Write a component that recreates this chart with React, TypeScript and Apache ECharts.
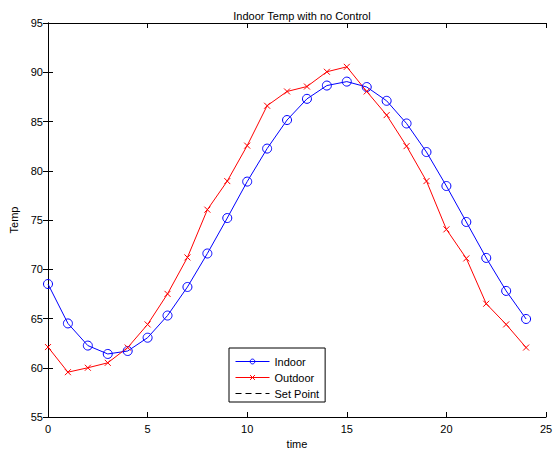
import React, { useEffect, useRef } from "react";
import * as echarts from "echarts";

const hours = [0,1,2,3,4,5,6,7,8,9,10,11,12,13,14,15,16,17,18,19,20,21,22,23,24];
const indoor = [68.5,64.5,62.25,61.4,61.7,63.05,65.3,68.2,71.6,75.2,78.9,82.25,85.15,87.3,88.65,89.05,88.5,87.1,84.8,81.9,78.45,74.8,71.15,67.8,64.95];
const outdoor = [62.1,59.55,60.0,60.5,62.05,64.4,67.5,71.2,76.05,78.95,82.55,86.6,88.05,88.55,90.05,90.55,88.05,85.65,82.5,78.95,74.05,71.1,66.5,64.4,62.05];
const setPoint: number[] = [];

const FONT = "Liberation Sans";
const BLUE = "#0000ff";
const RED = "#ff0000";

export default function App() {
  const ref = useRef<HTMLDivElement>(null);
  useEffect(() => {
    const chart = echarts.init(ref.current!, null, { renderer: "svg" });
    const xCommon = {
      type: "value" as const,
      min: 0,
      max: 25,
      interval: 5,
      splitLine: { show: false },
      axisLine: { show: true, lineStyle: { color: "#000", width: 1 } },
      axisTick: { show: true, inside: true, length: 5, lineStyle: { color: "#000" } },
    };
    const yCommon = {
      type: "value" as const,
      min: 55,
      max: 95,
      interval: 5,
      splitLine: { show: false },
      axisLine: { show: true, lineStyle: { color: "#000", width: 1 } },
      axisTick: { show: true, inside: true, length: 5, lineStyle: { color: "#000" } },
    };
    chart.setOption({
      animation: false,
      backgroundColor: "#fff",
      title: {
        text: "Indoor Temp with no Control",
        left: 297,
        textAlign: "center",
        top: 5,
        textStyle: { fontFamily: FONT, fontSize: 11, fontWeight: "normal", color: "#000" },
      },
      grid: { left: 48, right: 12, top: 23, bottom: 32, outerBoundsMode: "none", containLabel: false },
      xAxis: [
        {
          ...xCommon,
          position: "bottom",
          name: "time",
          nameLocation: "middle",
          nameGap: 21,
          nameTextStyle: { fontFamily: FONT, fontSize: 11, color: "#000" },
          axisLabel: { fontFamily: FONT, fontSize: 11, color: "#000", margin: 6 },
        },
        { ...xCommon, position: "top", axisLabel: { show: false } },
      ],
      yAxis: [
        {
          ...yCommon,
          position: "left",
          name: "Temp",
          nameLocation: "middle",
          nameGap: 27,
          nameRotate: 90,
          nameTextStyle: { fontFamily: FONT, fontSize: 11, color: "#000" },
          axisLabel: { fontFamily: FONT, fontSize: 11, color: "#000", margin: 5 },
        },
        { ...yCommon, position: "right", axisLabel: { show: false } },
      ],
      legend: {
        orient: "vertical",
        left: 229,
        top: 348,
        padding: [8, 6, 3, 6],
        itemGap: 5,
        itemWidth: 34,
        itemHeight: 6,
        borderColor: "#000",
        borderWidth: 1,
        borderRadius: 0,
        backgroundColor: "#fff",
        lineStyle: { width: 1 },
        itemStyle: { borderWidth: 1 },
        textStyle: { fontFamily: FONT, fontSize: 11, color: "#000" },
        data: [
          {
            name: "Indoor",
            lineStyle: { color: BLUE, width: 1 },
            itemStyle: { color: "rgba(0,0,0,0)", borderColor: BLUE, borderWidth: 1 },
          },
          {
            name: "Outdoor",
            lineStyle: { color: RED, width: 1 },
            itemStyle: { color: "rgba(0,0,0,0)", borderColor: RED, borderWidth: 1 },
          },
          {
            name: "Set Point",
            lineStyle: { color: "#000", width: 1, type: [6, 4] },
            itemStyle: { color: "rgba(0,0,0,0)", borderColor: "rgba(0,0,0,0)", borderWidth: 0 },
          },
        ],
      },
      series: [
        {
          name: "Indoor",
          type: "line",
          data: hours.map((h, i) => [h, indoor[i]]),
          symbol: "circle",
          symbolSize: 9,
          showAllSymbol: true,
          lineStyle: { color: BLUE, width: 1 },
          itemStyle: { color: "rgba(0,0,0,0)", borderColor: BLUE, borderWidth: 1 },
        },
        {
          name: "Outdoor",
          type: "line",
          data: hours.map((h, i) => [h, outdoor[i]]),
          symbol: "path://M0,0L10,10M10,0L0,10",
          symbolSize: 6,
          showAllSymbol: true,
          lineStyle: { color: RED, width: 1 },
          itemStyle: { color: "rgba(0,0,0,0)", borderColor: RED, borderWidth: 1 },
        },
        {
          name: "Set Point",
          type: "line",
          data: setPoint,
          symbol: "path://M0,0L1,1",
          lineStyle: { color: "#000", width: 1, type: [6, 4] },
          itemStyle: { color: "rgba(0,0,0,0)", borderColor: "rgba(0,0,0,0)", borderWidth: 0 },
        },
      ],
    });
    return () => chart.dispose();
  }, []);
  return (
    <div
      ref={ref}
      style={{ position: "fixed", left: 0, top: 0, width: 558, height: 449 }}
    />
  );
}
